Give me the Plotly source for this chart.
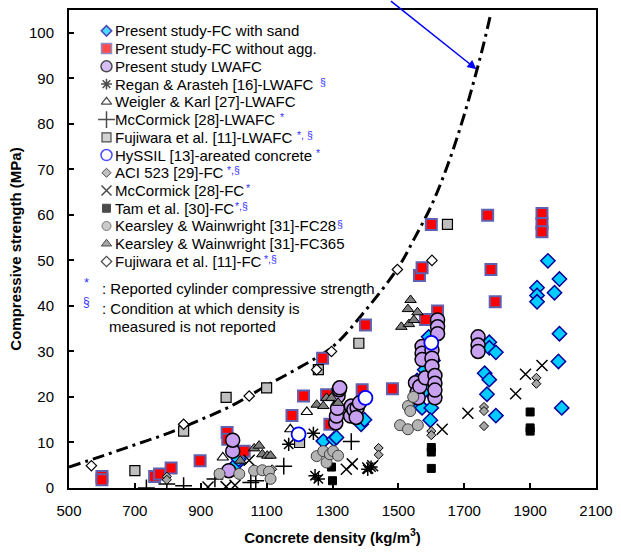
import plotly.graph_objects as go

# ---------------- data ----------------
sand_d = [1010, 1015, 1272, 1304, 1312, 1387, 1397,
          1592, 1557, 1567, 1572, 1600, 1597, 1590, 1605, 1580, 1610, 1600, 1575,
          1776, 1776, 1796, 1762, 1776, 1769, 1796,
          1954, 1989, 1921, 1974, 1921, 1921, 1989, 1986, 1996]
sand_v = [5.4, 6.3, 10.3, 10.7, 11.1, 14.0, 15.0,
          33.2, 23.6, 18.0, 17.6, 17.6, 14.9, 30.0, 28.0, 26.0, 20.0, 22.0, 21.0,
          32.0, 30.8, 29.8, 25.2, 23.8, 20.6, 15.9,
          49.9, 45.9, 44.0, 42.9, 42.3, 40.9, 33.9, 27.8, 17.6]

noagg_d = [600, 600, 760, 775, 810, 898, 980, 982, 1032, 1177, 1212, 1270, 1282, 1292,
           1390, 1400, 1482, 1564, 1572, 1582, 1600, 1619, 1771, 1781, 1794, 1936, 1936, 1936]
noagg_v = [2.5, 1.8, 2.5, 3.1, 4.4, 6.0, 12.2, 10.7, 8.1, 15.9, 20.2, 28.5, 20.5, 14.0,
           21.6, 35.8, 21.8, 46.7, 48.4, 37.0, 57.9, 38.9, 59.9, 48.0, 40.9, 60.3, 58.1, 56.3]

lwafc_d = [985, 997, 997,
           1310, 1312, 1315, 1317, 1320, 1322,
           1355, 1357, 1365, 1375, 1382, 1372,
           1552, 1557, 1560, 1565, 1572, 1572, 1572, 1582, 1602, 1602, 1602,
           1611, 1611, 1611, 1611, 1619, 1619, 1619,
           1742, 1742, 1742]
lwafc_v = [3.8, 8.1, 10.5,
           14.3, 15.8, 17.5, 20.2, 21.6, 22.0,
           15.8, 18.0, 17.2, 17.6, 18.7, 15.5,
           23.1, 21.0, 19.8, 22.3, 31.1, 29.6, 28.2, 24.2, 30.3, 28.5, 26.7,
           24.7, 23.0, 19.8, 21.5, 36.9, 35.4, 33.9,
           33.2, 31.4, 30.0]

regan_d = [1167, 1242, 1247, 1257, 1407, 1417]
regan_v = [9.6, 12.0, 2.7, 2.0, 4.1, 4.6]

weigler_d = [967, 1172, 1222]
weigler_v = [6.7, 12.9, 16.7]

mcc_lw_d = [735, 797, 848, 943, 1052, 1067, 1152, 1357]
mcc_lw_v = [0.0, 0.9, 0.5, 2.0, 1.2, 1.6, 4.8, 10.2]

fuji_lw_d = [700, 848, 977, 1100, 1200, 1257, 1380, 1649]
fuji_lw_v = [3.8, 12.5, 19.9, 22.0, 10.0, 26.0, 31.8, 57.9]

hyssil_d = [1197, 1400, 1600]
hyssil_v = [11.8, 19.8, 31.9]

aci_d = [797, 797, 960, 1117, 1440, 1440, 1600, 1600, 1760, 1760, 1760, 1919, 1919]
aci_v = [2.5, 1.8, 3.3, 4.1, 8.8, 7.3, 12.5, 11.6, 17.8, 16.9, 13.6, 24.2, 22.9]

mcc_fc_d = [922, 977, 1004, 1047, 1342, 1360, 1407, 1422, 1633, 1711, 1856, 1886, 1936]
mcc_fc_v = [0.2, 0.3, 0.6, 6.1, 4.1, 5.3, 4.4, 4.9, 12.9, 16.4, 20.7, 25.0, 26.9]

tam_d = [1297, 1300, 1600, 1600, 1600, 1900, 1900, 1900]
tam_v = [4.6, 1.6, 8.9, 7.9, 4.3, 16.7, 13.2, 12.5]

kw28_d = [957, 1017, 1062, 1087, 1107, 1112, 1252, 1272, 1282, 1292, 1302, 1317,
          1505, 1529, 1529, 1536, 1545, 1559]
kw28_v = [3.1, 3.1, 3.8, 3.9, 3.6, 2.0, 7.0, 8.1, 5.6, 7.4, 8.1, 7.1,
          13.8, 12.9, 18.0, 16.9, 20.0, 13.8]

kw365_d = [1020, 1062, 1077, 1087, 1102, 1112, 1252, 1272, 1282, 1297, 1317,
           1509, 1532, 1547, 1529, 1558, 1537]
kw365_v = [6.0, 8.7, 9.3, 7.4, 7.1, 7.1, 18.3, 18.0, 19.8, 19.8, 18.7,
           35.4, 36.0, 36.9, 39.3, 38.6, 41.3]

fuji_fc_d = [568, 848, 1047, 1252, 1297, 1497, 1602]
fuji_fc_v = [4.9, 14.0, 20.2, 26.0, 30.0, 48.0, 50.0]

curve_d = [500, 600, 700, 800, 900, 1000, 1100, 1200, 1300, 1400, 1500, 1550,
           1600, 1650, 1700, 1750, 1780]
curve_v = [4.6, 7.0, 9.5, 12.0, 15.0, 18.3, 22.5, 26.5, 31.0, 39.0, 48.5, 55.0,
           62.0, 71.0, 82.0, 95.0, 104.0]

x_ticks = [500, 700, 900, 1100, 1300, 1500, 1700, 1900, 2100]
y_ticks = [0, 10, 20, 30, 40, 50, 60, 70, 80, 90, 100]

series_names = ["Present study-FC with sand", "Present study-FC without agg.",
                "Present study LWAFC", "Regan &amp; Arasteh [16]-LWAFC",
                "Weigler &amp; Karl [27]-LWAFC", "McCormick [28]-LWAFC",
                "Fujiwara et al. [11]-LWAFC", "HySSIL [13]-areated concrete",
                "ACI 523 [29]-FC", "McCormick [28]-FC", "Tam et al. [30]-FC",
                "Kearsley &amp; Wainwright [31]-FC28", "Kearsley &amp; Wainwright [31]-FC365",
                "Fujiwara et al. [11]-FC"]
series_marks = ["", "", "", "§", "", "*", "*, §", "*", "*,§", "*", "*,§", "§", "", "*,§"]

# ---------------- styles ----------------
FONT = "Liberation Sans, Arial, sans-serif"
BLUE = "#3333ff"
styles = [  # symbol, size, fill, line colour, line width, legend-key size
    ("diamond", 11, "#00ccff", "#000099", 1.5, 8),
    ("square", 11, "#ff0000", "#6060b0", 2, 10),
    ("circle", 14, "#c8a0f0", "black", 1.5, 11),
    ("asterisk-open", 11, "black", "black", 1.5, 9),
    ("triangle-up", 10, "white", "black", 1.2, 9),
    ("cross-thin-open", 12, "black", "black", 1.5, 12),
    ("square", 10, "#bfbfbf", "black", 1.2, 9),
    ("circle", 14, "white", "#0000ff", 1.8, 11),
    ("diamond", 7, "#a6a6a6", "black", 1, 7),
    ("x-thin-open", 11, "black", "black", 1.5, 10),
    ("square", 8, "black", "black", 1, 8),
    ("circle", 11, "#b4b4b4", "#404040", 1, 9),
    ("triangle-up", 10, "#7f7f7f", "black", 1, 9),
    ("diamond", 8, "white", "black", 1.2, 8),
]
series_x = [sand_d, noagg_d, lwafc_d, regan_d, weigler_d, mcc_lw_d, fuji_lw_d, hyssil_d,
            aci_d, mcc_fc_d, tam_d, kw28_d, kw365_d, fuji_fc_d]
series_y = [sand_v, noagg_v, lwafc_v, regan_v, weigler_v, mcc_lw_v, fuji_lw_v, hyssil_v,
            aci_v, mcc_fc_v, tam_v, kw28_v, kw365_v, fuji_fc_v]

fig = go.Figure()

fig.add_trace(go.Scatter(x=curve_d, y=curve_v, mode="lines", showlegend=False,
                         line=dict(color="black", width=3, dash="12px,5px,3px,5px", shape="spline"),
                         hoverinfo="skip"))

for name, xs, ys, st in zip(series_names, series_x, series_y, styles):
    sym, size, fill, lc, lw, _ = st
    fig.add_trace(go.Scatter(
        x=xs, y=ys, mode="markers", name=name, showlegend=False,
        marker=dict(symbol=sym, size=size, color=fill, line=dict(color=lc, width=lw))))

# ---- legend (drawn on an overlay axis measured in pixels of the plot area) ----
LEG_X, LEG_Y0, LEG_DY, TXT_X = 107, 29, 17.85, 115
n = len(series_names)
key_y = [LEG_Y0 + LEG_DY * i for i in range(n)]
fig.add_trace(go.Scatter(
    x=[LEG_X] * n, y=key_y, xaxis="x2", yaxis="y2", mode="markers", showlegend=False,
    hoverinfo="skip",
    marker=dict(symbol=[s[0] for s in styles], size=[s[5] for s in styles],
                color=[s[2] for s in styles],
                line=dict(color=[s[3] for s in styles], width=[min(s[4], 1.5) for s in styles]))))

for name, ky in zip(series_names, key_y):
    fig.add_annotation(x=TXT_X, y=ky, xref="x2", yref="y2", text=name, showarrow=False,
                       xanchor="left", yanchor="middle", borderpad=0,
                       font=dict(family=FONT, size=15, color="black"))

# blue reference marks placed just after the legend texts (pixel x of each mark)
mark_x = [0, 0, 0, 322, 0, 282, 299, 318, 228, 247, 236, 340, 0, 266]
for mark, mx, ky in zip(series_marks, mark_x, key_y):
    if mark:
        fig.add_annotation(x=mx, y=ky - 2.5, xref="x2", yref="y2", text=mark,
                           showarrow=False, xanchor="left", yanchor="middle", borderpad=0,
                           font=dict(family=FONT, size=10.5, color=BLUE))

fig.add_annotation(x=1737, y=92, xref="x", yref="y", ax=-87, ay=-72, text="",
                   showarrow=True, arrowhead=2, arrowsize=1.2, arrowwidth=1.5, arrowcolor="#0000ff")

notes = [
    (87, 282, "*", BLUE, 13, "center"),
    (101, 288, ": Reported cylinder compressive strength", "black", 15, "left"),
    (87, 302, "§", BLUE, 12, "center"),
    (101, 308, ": Condition at which density is", "black", 15, "left"),
    (109, 326, "measured is not reported", "black", 15, "left"),
]
for px, py, t, c, s, anc in notes:
    fig.add_annotation(x=px, y=py, xref="x2", yref="y2", text=t, showarrow=False,
                       xanchor=anc, yanchor="middle", borderpad=0,
                       font=dict(family=FONT, size=s, color=c))

axis_common = dict(showgrid=False, zeroline=False, showline=True, linecolor="black",
                   linewidth=2, mirror=True, ticks="inside", ticklen=5, tickwidth=1.5,
                   tickcolor="black", tickfont=dict(family=FONT, size=15, color="black"))

fig.update_layout(
    width=621, height=552,
    margin=dict(l=69, r=18, t=8, b=63),
    paper_bgcolor="white", plot_bgcolor="white",
    font=dict(family=FONT, color="black"),
    xaxis=dict(range=[500, 2100], tickmode="array", tickvals=x_ticks,
               ticktext=[str(v) for v in x_ticks], ticklabelstandoff=8,
               title=dict(text="<b>Concrete density (kg/m<sup>3</sup>)</b>",
                          font=dict(family=FONT, size=15), standoff=14),
               **axis_common),
    yaxis=dict(range=[0, 105], tickmode="array", tickvals=y_ticks,
               ticktext=[str(v) for v in y_ticks], ticklabelstandoff=10,
               title=dict(text="<b>Compressive strength (MPa)</b>",
                          font=dict(family=FONT, size=15), standoff=4),
               **axis_common),
    xaxis2=dict(overlaying="x", range=[69, 603], visible=False, anchor="y"),
    yaxis2=dict(overlaying="y", range=[489, 8], visible=False, anchor="x"),
    showlegend=False,
)

fig.write_html("out.html")
